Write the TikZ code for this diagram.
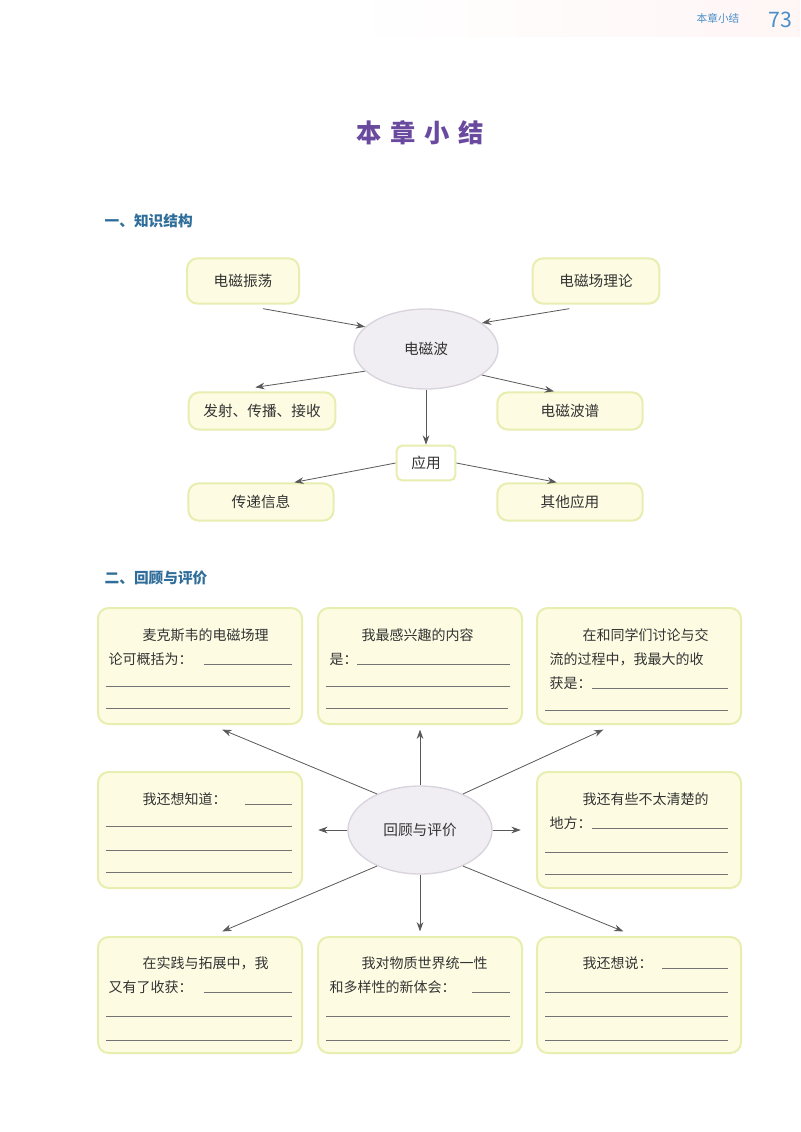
\documentclass[tikz,border=0pt]{standalone}
\usepackage{fontspec}
\setmainfont{Noto Sans CJK SC}
\usetikzlibrary{shapes.geometric,arrows.meta}
\definecolor{boxfill}{HTML}{FDFCE3}
\definecolor{boxline}{HTML}{E8EDB0}
\definecolor{ellfill}{HTML}{F1EEF3}
\definecolor{ellline}{HTML}{D8D3DC}
\definecolor{titlec}{HTML}{6A4A9E}
\definecolor{secc}{HTML}{2F6E9A}
\definecolor{hdrc}{HTML}{4A8FC9}
\tikzset{
 ybox/.style={draw=boxline,line width=1.5pt,fill=boxfill,rounded corners=8pt,font=\fontsize{11}{13}\selectfont,text=black!80},
 ell/.style={ellipse,draw=ellline,line width=1pt,fill=ellfill,font=\fontsize{11}{13}\selectfont,text=black!80},
 arr/.style={-{Stealth[length=7pt,width=5pt]},draw=black!65,line width=0.6pt},
 ul/.style={draw=black!55,line width=0.5pt},
 bt/.style={anchor=base west,font=\fontsize{10.5}{12}\selectfont,text=black!80}
}
\begin{document}
\begin{tikzpicture}[x=0.75pt,y=-0.75pt]
\useasboundingbox (0,0) rectangle (800,1132);
\fill[white] (0,0) rectangle (800,1132);
\shade[left color=white,right color=pink!15] (350,0) rectangle (800,36);
\node[text=hdrc,font=\fontsize{8}{9}\selectfont] (h1) at (718,18) {本章小结};
\node[text=hdrc,font=\fontsize{16}{18}\selectfont] (h2) at (780,20) {73};
\node[text=titlec,font=\fontsize{19}{22}\bfseries\selectfont] (title) at (420,133) {本\,\,章\,\,小\,\,结};
\node[text=secc,font=\fontsize{11}{13}\bfseries\selectfont,anchor=west] (s1) at (100,221) {一、知识结构};
\node[text=secc,font=\fontsize{11}{13}\bfseries\selectfont,anchor=west] (s2) at (100,578) {二、回顾与评价};
% part 1
\node[ybox,minimum width=84pt,minimum height=34pt] (zd) at (243,281) {电磁振荡};
\node[ybox,minimum width=95pt,minimum height=34pt] (lc) at (596,281) {电磁场理论};
\node[ell,minimum width=108pt,minimum height=60pt] (dcb) at (426,349) {电磁波};
\node[ybox,minimum width=110pt,minimum height=28pt] (fs) at (262,411) {发射、传播、接收};
\node[ybox,minimum width=109pt,minimum height=28pt] (pu) at (570,411) {电磁波谱};
\node[ybox,fill=white,minimum width=44pt,minimum height=26pt,rounded corners=4pt] (yy) at (426,463) {应用};
\node[ybox,minimum width=109pt,minimum height=28pt] (cd) at (261,502) {传递信息};
\node[ybox,minimum width=109pt,minimum height=28pt] (qt) at (570,502) {其他应用};
\draw[arr] ([xshift=15,yshift=-3]zd.south) -- (dcb.160);
\draw[arr] ([xshift=-20,yshift=-3]lc.south) -- (dcb.25);
\draw[arr] (dcb.200) -- ([xshift=-5,yshift=3]fs.north);
\draw[arr] (dcb.335) -- ([xshift=-12]pu.north);
\draw[arr] (dcb.south) -- (yy.north);
\draw[arr] (yy.west) -- ([xshift=25]cd.north);
\draw[arr] (yy.east) -- ([xshift=-10]qt.north);
% part 2
\foreach \n/\x/\y in {tl/98/608,tm/318/608,tr/537/608,ml/98/772,mr/537/772,bl/98/937,bm/318/937,br/537/937}{
  \path[ybox] (\x,\y) rectangle ++(204,116);
  \coordinate (\n c) at (\x+102,\y+58);
}
\node[ell,minimum width=108pt,minimum height=66pt] (hg) at (420,830) {回顾与评价};
\foreach \n in {tl,tm,tr,ml,mr,bl,bm,br}{
  \node[inner sep=0pt,minimum width=153pt,minimum height=87pt] (\n) at (\n c) {};
}
\draw[arr] (hg.140) -- ([xshift=-60,yshift=-4]tl.south east);
\draw[arr] (hg.north) -- ([yshift=-4]tm.south);
\draw[arr] (hg.40) -- ([xshift=50,yshift=-4]tr.south west);
\draw[arr] (hg.west) -- ([xshift=12]ml.east);
\draw[arr] (hg.east) -- ([xshift=-12]mr.west);
\draw[arr] (hg.220) -- ([xshift=-60,yshift=4]bl.north east);
\draw[arr] (hg.south) -- ([yshift=4]bm.north);
\draw[arr] (hg.320) -- ([xshift=65,yshift=4]br.north west);
% texts
\node[bt] at (138,640) {麦克斯韦的电磁场理};
\node[bt] at (104,664) {论可概括为：};
\draw[ul] (204,664)--(292,664) (106,686)--(290,686) (106,708)--(290,708);
\node[bt] at (357,640) {我最感兴趣的内容};
\node[bt] at (325,664) {是：};
\draw[ul] (357,664)--(510,664) (326,686)--(510,686) (326,708)--(508,708);
\node[bt] at (578,640) {在和同学们讨论与交};
\node[bt] at (545,664) {流的过程中，我最大的收};
\node[bt] at (545,688) {获是：};
\draw[ul] (592,688)--(728,688) (545,710)--(728,710);
\node[bt] at (138,804) {我还想知道：};
\draw[ul] (245,804)--(292,804) (106,826)--(292,826) (106,850)--(292,850) (106,872)--(292,872);
\node[bt] at (578,804) {我还有些不太清楚的};
\node[bt] at (545,828) {地方：};
\draw[ul] (592,828)--(728,828) (545,852)--(728,852) (545,874)--(728,874);
\node[bt] at (138,968) {在实践与拓展中，我};
\node[bt] at (104,992) {又有了收获：};
\draw[ul] (204,992)--(292,992) (106,1016)--(292,1016) (106,1040)--(292,1040);
\node[bt] at (357,968) {我对物质世界统一性};
\node[bt] at (325,992) {和多样性的新体会：};
\draw[ul] (472,992)--(510,992) (326,1016)--(510,1016) (326,1040)--(510,1040);
\node[bt] at (578,968) {我还想说：};
\draw[ul] (662,968)--(728,968) (545,992)--(728,992) (545,1016)--(728,1016) (545,1040)--(728,1040);
\end{tikzpicture}
\end{document}
